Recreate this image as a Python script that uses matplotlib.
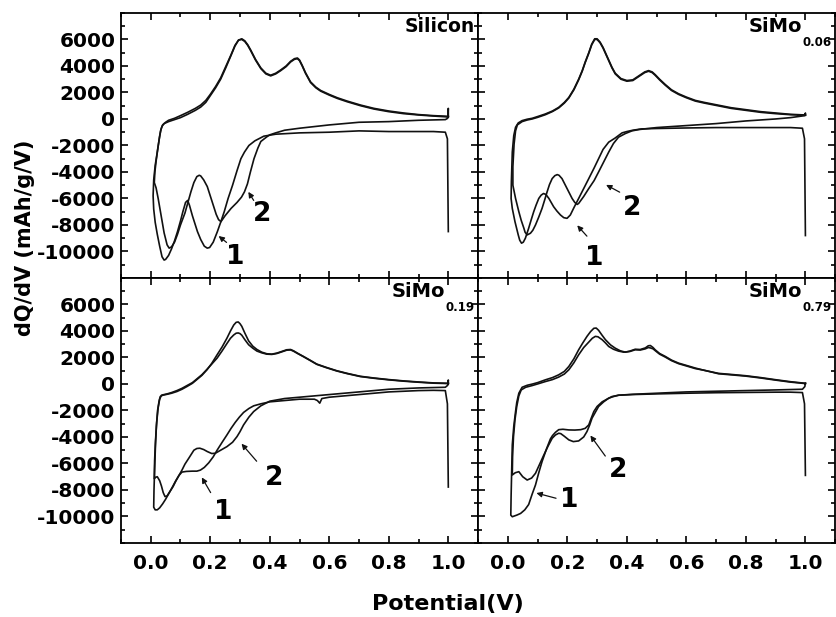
#Import libraries
import matplotlib.pyplot as plt
from matplotlib.ticker import MultipleLocator, FormatStrFormatter

#Data: (potential V, dQ/dV mAh/g/V), each cycle = cathodic sweep then anodic sweep
si_cycle1 = [(1.0,-8500),(0.997,-1500),(0.99,-1000),(0.95,-950),(0.9,-950),(0.8,-950),(0.7,-900),(0.6,-1000),
             (0.5,-1050),(0.42,-1150),(0.38,-1300),(0.35,-1650),(0.33,-2000),(0.315,-2500),(0.303,-3000),(0.29,-3900),
             (0.275,-5000),(0.26,-6000),(0.247,-7000),(0.235,-7800),(0.224,-8500),(0.21,-9300),(0.198,-9700),(0.19,-9750),
             (0.18,-9600),(0.168,-9100),(0.157,-8500),(0.14,-7300),(0.13,-6500),(0.124,-6150),(0.117,-6300),(0.108,-7000),
             (0.1,-7700),(0.09,-8500),(0.08,-9200),(0.07,-9800),(0.06,-10300),(0.05,-10600),(0.045,-10650),(0.038,-10400),
             (0.03,-9600),(0.022,-8700),(0.015,-7800),(0.01,-6800),(0.008,-5800),
             (0.01,-4600),(0.015,-3500),(0.022,-2500),(0.028,-1600),(0.033,-900),(0.038,-550),(0.045,-350),(0.06,-200),
             (0.08,-50),(0.1,100),(0.124,350),(0.15,650),(0.168,900),(0.185,1250),(0.2,1750),(0.218,2350),(0.235,3000),
             (0.252,3850),(0.269,4750),(0.283,5500),(0.295,5950),(0.306,6050),(0.316,5900),(0.326,5600),(0.336,5200),
             (0.352,4500),(0.37,3850),(0.387,3450),(0.403,3300),(0.42,3450),(0.437,3700),(0.455,4000),(0.47,4350),
             (0.483,4550),(0.493,4600),(0.5,4450),(0.509,4050),(0.52,3500),(0.537,2800),(0.555,2400),(0.571,2150),
             (0.6,1850),(0.627,1600),(0.66,1350),(0.705,1050),(0.75,800),(0.8,600),(0.85,450),(0.9,330),(0.95,250),(1.0,200)]
si_cycle2 = [(1.0,200),(1.0,800),(0.998,50),(0.99,-50),(0.9,-100),(0.8,-200),(0.7,-250),(0.6,-450),(0.5,-700),
             (0.45,-850),(0.42,-1050),(0.4,-1200),(0.39,-1350),(0.37,-1700),(0.36,-2200),(0.347,-3000),(0.335,-4000),
             (0.325,-4900),(0.315,-5500),(0.305,-5900),(0.29,-6300),(0.27,-6750),(0.25,-7300),(0.236,-7750),(0.228,-7600),
             (0.22,-7200),(0.21,-6500),(0.2,-5800),(0.19,-5100),(0.178,-4600),(0.168,-4300),(0.163,-4250),(0.155,-4350),
             (0.145,-4800),(0.135,-5500),(0.125,-6300),(0.115,-7100),(0.1,-8000),(0.09,-8700),(0.08,-9300),(0.07,-9650),
             (0.062,-9750),(0.055,-9500),(0.045,-8600),(0.035,-7300),(0.025,-6000),(0.018,-5200),(0.012,-4800),
             (0.014,-4000),(0.018,-3200),(0.024,-2200),(0.03,-1300),(0.035,-750),(0.04,-450),(0.05,-250),(0.06,-100),
             (0.08,50),(0.1,250),(0.124,500),(0.15,800),(0.168,1050),(0.185,1400),(0.2,1850),(0.218,2450),(0.235,3100),
             (0.252,3950),(0.269,4800),(0.283,5550),(0.295,5950),(0.306,6000),(0.316,5850),(0.326,5550),(0.336,5150),
             (0.352,4450),(0.37,3800),(0.387,3400),(0.403,3250),(0.42,3400),(0.437,3650),(0.455,3950),(0.47,4300),
             (0.483,4500),(0.493,4550),(0.5,4400),(0.509,4000),(0.52,3450),(0.537,2750),(0.555,2350),(0.571,2100),
             (0.6,1800),(0.627,1550),(0.66,1300),(0.705,1000),(0.75,750),(0.8,550),(0.85,400),(0.9,300),(0.95,220),(1.0,150)]

mo006_cycle1 = [(1.0,-8800),(0.997,-1500),(0.99,-700),(0.95,-650),(0.9,-650),(0.8,-650),(0.7,-650),(0.6,-680),
                (0.5,-720),(0.45,-750),(0.42,-850),(0.4,-950),(0.384,-1050),(0.36,-1450),(0.339,-1750),(0.32,-2300),
                (0.305,-3000),(0.29,-3700),(0.272,-4500),(0.255,-5250),(0.238,-6000),(0.222,-6700),(0.21,-7250),
                (0.199,-7500),(0.188,-7450),(0.177,-7250),(0.165,-6950),(0.154,-6625),(0.138,-6000),(0.128,-5700),
                (0.12,-5625),(0.112,-5750),(0.104,-6000),(0.095,-6500),(0.087,-7000),(0.078,-7650),(0.07,-8250),
                (0.059,-9000),(0.052,-9300),(0.046,-9375),(0.04,-9150),(0.035,-8750),(0.024,-7750),(0.015,-6750),
                (0.011,-6000),
                (0.012,-4700),(0.015,-2500),(0.02,-1250),(0.026,-625),(0.035,-300),(0.048,-125),(0.065,-20),(0.082,50),
                (0.1,180),(0.126,375),(0.15,600),(0.171,875),(0.19,1250),(0.205,1625),(0.222,2250),(0.238,3000),
                (0.25,3650),(0.26,4300),(0.272,5000),(0.282,5650),(0.292,6050),(0.3,6050),(0.31,5800),(0.32,5400),
                (0.328,5000),(0.34,4400),(0.35,3900),(0.361,3450),(0.38,3050),(0.4,2900),(0.42,2950),(0.44,3250),
                (0.46,3550),(0.473,3650),(0.485,3550),(0.495,3350),(0.51,3000),(0.529,2600),(0.55,2200),(0.574,1900),
                (0.6,1650),(0.63,1400),(0.66,1250),(0.705,1050),(0.75,850),(0.8,700),(0.85,550),(0.9,450),(0.95,350),
                (1.0,300)]
mo006_cycle2 = [(1.0,300),(1.0,450),(0.998,250),(0.95,100),(0.9,0),(0.8,-150),(0.7,-350),(0.6,-500),(0.5,-650),
                (0.46,-750),(0.44,-800),(0.417,-900),(0.395,-1100),(0.372,-1375),(0.355,-1850),(0.339,-2500),
                (0.322,-3250),(0.305,-4000),(0.29,-4650),(0.272,-5250),(0.255,-5850),(0.238,-6375),(0.233,-6450),
                (0.225,-6300),(0.216,-6000),(0.199,-5250),(0.182,-4500),(0.172,-4250),(0.166,-4200),(0.158,-4280),
                (0.149,-4500),(0.14,-4950),(0.132,-5500),(0.124,-6100),(0.115,-6750),(0.104,-7400),(0.093,-8000),
                (0.084,-8400),(0.076,-8625),(0.065,-8750),(0.058,-8550),(0.054,-8250),(0.045,-7650),(0.037,-7000),
                (0.026,-6000),(0.017,-5000),
                (0.017,-3600),(0.021,-1900),(0.026,-900),(0.032,-450),(0.048,-200),(0.065,-80),(0.082,0),(0.1,120),
                (0.126,320),(0.15,560),(0.171,830),(0.19,1200),(0.205,1580),(0.222,2200),(0.238,2950),(0.25,3600),
                (0.26,4250),(0.272,4950),(0.282,5600),(0.292,6000),(0.3,6000),(0.31,5750),(0.32,5350),(0.328,4950),
                (0.34,4350),(0.35,3850),(0.361,3400),(0.38,3000),(0.4,2850),(0.42,2900),(0.44,3200),(0.46,3500),
                (0.473,3600),(0.485,3500),(0.495,3300),(0.51,2950),(0.529,2550),(0.55,2150),(0.574,1850),(0.6,1600),
                (0.63,1350),(0.66,1200),(0.705,1000),(0.75,800),(0.8,650),(0.85,500),(0.9,400),(0.95,320),(1.0,280)]

mo019_cycle1 = [(1.0,-7780),(0.997,-1500),(0.99,-500),(0.95,-480),(0.9,-500),(0.8,-600),(0.7,-800),(0.6,-1000),
                (0.575,-1100),(0.568,-1450),(0.56,-1250),(0.55,-1150),(0.5,-1150),(0.45,-1250),(0.4,-1350),
                (0.37,-1500),(0.346,-1650),(0.33,-1850),(0.312,-2150),(0.298,-2500),(0.284,-2900),(0.27,-3350),
                (0.256,-3850),(0.24,-4400),(0.223,-5000),(0.21,-5500),(0.195,-5950),(0.18,-6300),(0.167,-6500),
                (0.155,-6580),(0.14,-6580),(0.12,-6600),(0.105,-6650),(0.095,-6900),(0.083,-7350),(0.07,-7900),
                (0.06,-8300),(0.05,-8700),(0.04,-9050),(0.03,-9350),(0.022,-9500),(0.015,-9500),(0.01,-9300),
                (0.011,-8000),(0.013,-6500),(0.016,-4600),(0.019,-3200),(0.023,-2000),(0.028,-1300),(0.032,-950),
                (0.04,-850),(0.055,-780),(0.07,-700),(0.088,-570),(0.105,-400),(0.122,-190),(0.14,50),(0.155,330),
                (0.172,650),(0.189,1070),(0.205,1550),(0.223,2200),(0.24,2800),(0.256,3450),(0.268,4000),(0.279,4450),
                (0.287,4650),(0.294,4680),(0.3,4550),(0.306,4350),(0.316,3850),(0.329,3250),(0.343,2850),(0.357,2600),
                (0.373,2400),(0.39,2280),(0.407,2250),(0.424,2330),(0.44,2450),(0.457,2580),(0.47,2600),(0.48,2500),
                (0.495,2300),(0.513,2080),(0.535,1800),(0.558,1500),(0.59,1250),(0.625,1000),(0.66,800),(0.704,580),
                (0.75,450),(0.8,330),(0.85,230),(0.9,150),(0.95,80),(1.0,50)]
mo019_cycle2 = [(1.0,50),(1.0,300),(0.998,-100),(0.99,-250),(0.9,-300),(0.8,-400),(0.7,-600),(0.6,-800),
                (0.5,-1000),(0.45,-1100),(0.4,-1300),(0.37,-1650),(0.346,-2080),(0.33,-2500),(0.312,-3090),
                (0.3,-3600),(0.29,-3970),(0.275,-4400),(0.256,-4730),(0.235,-5000),(0.217,-5230),(0.205,-5250),
                (0.19,-5100),(0.178,-4950),(0.165,-4850),(0.155,-4870),(0.145,-5000),(0.128,-5600),(0.115,-6050),
                (0.105,-6500),(0.095,-6900),(0.085,-7300),(0.075,-7750),(0.065,-8100),(0.055,-8450),(0.048,-8500),
                (0.042,-8200),(0.036,-7700),(0.03,-7300),(0.022,-7000),(0.016,-7050),(0.012,-7150),
                (0.013,-5800),(0.016,-4300),(0.02,-2900),(0.025,-1800),(0.03,-1150),(0.036,-850),(0.045,-800),
                (0.055,-750),(0.07,-650),(0.088,-500),(0.105,-330),(0.122,-120),(0.14,100),(0.155,380),(0.172,700),
                (0.189,1100),(0.205,1500),(0.223,1950),(0.24,2500),(0.256,3050),(0.268,3450),(0.279,3700),
                (0.287,3830),(0.294,3850),(0.3,3800),(0.306,3680),(0.316,3350),(0.329,2960),(0.343,2700),
                (0.357,2480),(0.373,2350),(0.39,2250),(0.407,2230),(0.424,2300),(0.44,2420),(0.457,2550),
                (0.47,2570),(0.48,2470),(0.495,2280),(0.513,2060),(0.535,1780),(0.558,1480),(0.59,1230),(0.625,980),
                (0.66,780),(0.704,560),(0.75,430),(0.8,310),(0.85,210),(0.9,130),(0.95,60),(1.0,30)]

mo079_cycle1 = [(1.0,-6900),(0.997,-1500),(0.99,-650),(0.95,-620),(0.9,-620),(0.8,-640),(0.7,-660),(0.6,-700),
                (0.5,-750),(0.42,-800),(0.372,-850),(0.35,-950),(0.333,-1150),(0.317,-1350),(0.3,-1700),
                (0.289,-2080),(0.28,-2600),(0.272,-3090),(0.26,-3350),(0.245,-3450),(0.225,-3480),(0.205,-3470),
                (0.185,-3420),(0.171,-3450),(0.16,-3650),(0.15,-3900),(0.143,-4150),(0.13,-4900),(0.115,-5860),
                (0.104,-6700),(0.093,-7620),(0.082,-8300),(0.07,-9100),(0.057,-9500),(0.043,-9770),(0.03,-9900),
                (0.015,-10020),(0.01,-9900),
                (0.011,-8500),(0.013,-6500),(0.015,-4600),(0.02,-3200),(0.026,-2080),(0.03,-1400),(0.037,-700),
                (0.048,-250),(0.065,-100),(0.082,-10),(0.1,100),(0.126,310),(0.15,480),(0.171,690),(0.19,950),
                (0.205,1320),(0.222,1900),(0.238,2580),(0.252,3100),(0.266,3590),(0.278,3950),(0.289,4200),
                (0.297,4220),(0.305,4050),(0.316,3700),(0.328,3340),(0.345,2950),(0.361,2700),(0.378,2500),
                (0.395,2400),(0.41,2480),(0.428,2620),(0.445,2600),(0.462,2720),(0.472,2880),(0.479,2900),
                (0.488,2750),(0.495,2580),(0.51,2300),(0.529,2080),(0.55,1800),(0.574,1570),(0.6,1400),(0.63,1200),
                (0.665,1000),(0.708,800),(0.75,720),(0.8,620),(0.85,480),(0.9,320),(0.95,170),(1.0,50)]
mo079_cycle2 = [(1.0,50),(0.998,-200),(0.99,-400),(0.9,-450),(0.8,-500),(0.7,-550),(0.6,-600),(0.5,-700),
                (0.42,-780),(0.372,-850),(0.355,-950),(0.339,-1070),(0.322,-1350),(0.305,-1700),(0.295,-2100),
                (0.283,-2580),(0.275,-3100),(0.266,-3590),(0.255,-4000),(0.238,-4300),(0.22,-4350),(0.205,-4220),
                (0.19,-3950),(0.178,-3750),(0.171,-3720),(0.16,-3850),(0.149,-4100),(0.135,-4700),(0.121,-5360),
                (0.107,-6050),(0.093,-6740),(0.08,-7100),(0.065,-7250),(0.05,-7000),(0.037,-6620),(0.025,-6700),
                (0.015,-6870),
                (0.016,-5500),(0.019,-4000),(0.024,-2700),(0.03,-1700),(0.037,-900),(0.045,-450),(0.06,-250),
                (0.082,-120),(0.1,0),(0.126,180),(0.15,330),(0.171,520),(0.19,750),(0.205,1070),(0.222,1600),
                (0.238,2200),(0.255,2750),(0.272,3160),(0.284,3450),(0.294,3590),(0.303,3560),(0.317,3340),
                (0.328,3100),(0.339,2830),(0.355,2620),(0.372,2480),(0.39,2400),(0.41,2450),(0.428,2580),
                (0.445,2560),(0.462,2650),(0.472,2750),(0.479,2720),(0.488,2650),(0.495,2520),(0.51,2250),
                (0.529,2030),(0.55,1760),(0.574,1530),(0.6,1360),(0.63,1160),(0.665,1010),(0.708,770),(0.75,690),
                (0.8,590),(0.85,450),(0.9,290),(0.95,140),(1.0,30)]

#Panel labels: main text and subscript
panel_names = ['Silicon', 'SiMo', 'SiMo', 'SiMo']
panel_subs = ['', '0.06', '0.19', '0.79']
panel_cycles = [(si_cycle1, si_cycle2), (mo006_cycle1, mo006_cycle2),
                (mo019_cycle1, mo019_cycle2), (mo079_cycle1, mo079_cycle2)]

#Labels "1" and "2": (text x, text y, arrow tail x, tail y, arrow tip x, tip y)
cycle_marks = [
    [(0.284, -10450, 0.262, -9450, 0.221, -8700), (0.373, -7200, 0.351, -6325, 0.323, -5325)],
    [(0.289, -10500, 0.272, -9000, 0.227, -7875), (0.417, -6750, 0.384, -5625, 0.322, -4875)],
    [(0.245, -9640, 0.206, -8380, 0.167, -6870), (0.413, -7120, 0.362, -5990, 0.299, -4350)],
    [(0.205, -8760, 0.171, -8680, 0.087, -8180), (0.372, -6490, 0.333, -5610, 0.272, -3720)],
]

x_ticks = [0.0, 0.2, 0.4, 0.6, 0.8, 1.0]
y_ticks = [-10000, -8000, -6000, -4000, -2000, 0, 2000, 4000, 6000]

#Figure
plt.rcParams['font.family'] = 'DejaVu Sans'
plt.rcParams['font.weight'] = 'bold'
plt.rcParams['axes.unicode_minus'] = False
fig, axes = plt.subplots(2, 2, sharex=True, sharey=True, figsize=(8.36, 6.17), dpi=100)
fig.subplots_adjust(left=0.1447, right=0.999, top=0.979, bottom=0.120, wspace=0, hspace=0)

for ax, name, sub, cycles, marks in zip(axes.flat, panel_names, panel_subs, panel_cycles, cycle_marks):
    for cyc in cycles:
        v = [p[0] for p in cyc]
        q = [p[1] for p in cyc]
        ax.plot(v, q, color='#111111', lw=1.2)

    ax.set_xlim(-0.1, 1.1)
    ax.set_ylim(-12000, 8000)
    ax.set_xticks(x_ticks)
    ax.set_yticks(y_ticks)
    ax.xaxis.set_minor_locator(MultipleLocator(0.1))
    ax.yaxis.set_minor_locator(MultipleLocator(1000))
    ax.xaxis.set_major_formatter(FormatStrFormatter('%.1f'))
    ax.tick_params(which='both', direction='in', top=True, right=True, width=1.2, labelsize=14.5)
    ax.tick_params(which='major', length=5)
    ax.tick_params(which='minor', length=3)
    ax.tick_params(axis='x', pad=8)
    ax.tick_params(axis='y', pad=4)
    for s in ax.spines.values():
        s.set_linewidth(1.3)

    #panel label, subscript drawn as its own smaller text just below the baseline
    if sub:
        ax.annotate(sub, xy=(0.99, 0.985), xycoords='axes fraction', xytext=(0, -13.5),
                    textcoords='offset points', ha='right', va='top', fontsize=8.5, fontweight='bold')
        ax.annotate(name, xy=(0.99, 0.985), xycoords='axes fraction', xytext=(-21.5, 0),
                    textcoords='offset points', ha='right', va='top', fontsize=14, fontweight='bold')
    else:
        ax.text(0.99, 0.985, name, transform=ax.transAxes, ha='right', va='top',
                fontsize=13.5, fontweight='bold')

    for (label, (tx, ty, ax0, ay0, ax1, ay1)) in zip(['1', '2'], marks):
        ax.annotate('', xy=(ax1, ay1), xytext=(ax0, ay0),
                    arrowprops=dict(arrowstyle='-|>', color='#111111', lw=0.9, mutation_scale=8))
        ax.text(tx, ty, label, ha='center', va='center', fontsize=19, fontweight='bold')

fig.text(448 / 836, 1 - 604 / 617, 'Potential(V)', ha='center', va='center', fontsize=16, fontweight='bold')
fig.text(25 / 836, 1 - 238 / 617, 'dQ/dV (mAh/g/V)', ha='center', va='center', rotation=90,
         fontsize=15, fontweight='bold')

plt.savefig('out.png', dpi=100)
